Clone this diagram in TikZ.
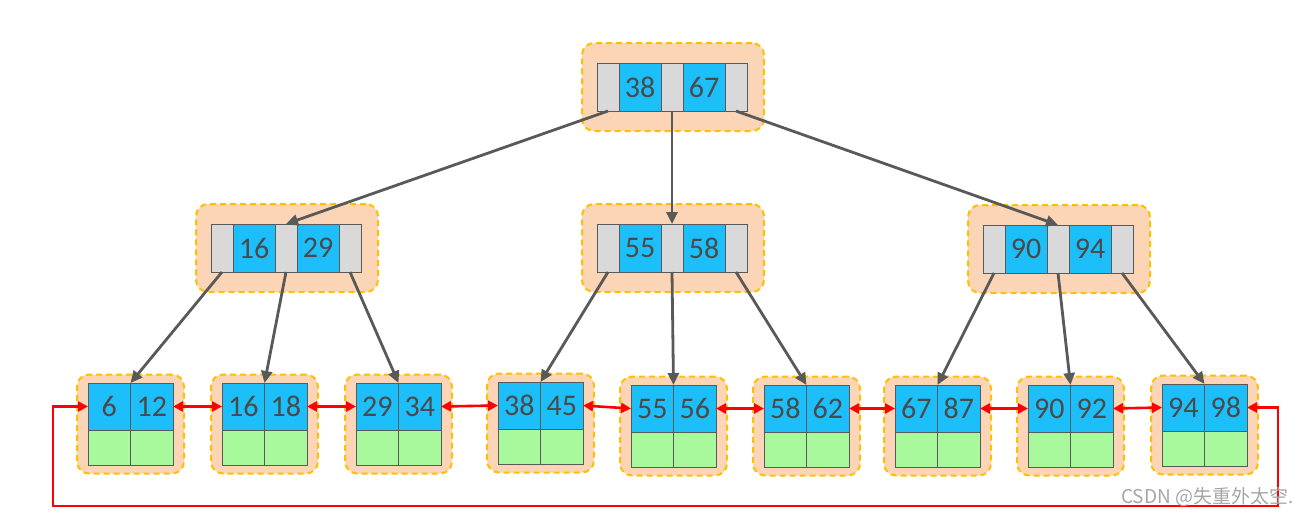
\documentclass[tikz,border=0pt]{standalone}
\usepackage{fontspec}
\setmainfont{Carlito}
\newfontfamily\cjk{Noto Sans CJK SC}
\usetikzlibrary{arrows.meta}
\definecolor{peach}{HTML}{FBD5B5}
\definecolor{gold}{HTML}{FFC000}
\definecolor{keyblue}{HTML}{1CBFFA}
\definecolor{ptrgray}{HTML}{D9D9D9}
\definecolor{leafgreen}{HTML}{A8F99C}
\definecolor{edgegray}{HTML}{595959}
\definecolor{txt}{HTML}{4A4A4A}
\tikzset{
  pagebox/.style={fill=peach, draw=gold, line width=2pt, dash pattern=on 6pt off 4pt,
    rounded corners=12pt, inner sep=0pt, outer sep=0pt},
  cellbase/.style={draw=edgegray, line width=1pt, inner sep=0pt, outer sep=0pt, anchor=north west,
    text=txt, font=\fontsize{30}{32}\selectfont},
  ptr/.style={cellbase, fill=ptrgray, minimum width=22pt, minimum height=48pt},
  ikey/.style={cellbase, fill=keyblue, minimum width=42pt, minimum height=48pt},
  lkey/.style={cellbase, fill=keyblue, minimum width=42.5pt, minimum height=47pt},
  ldata/.style={cellbase, fill=leafgreen, minimum width=42.5pt, minimum height=35pt},
  treearrow/.style={draw=edgegray, line width=2.8pt, -{Triangle[length=12pt,width=11pt]}},
  link/.style={draw=red, line width=2.6pt, {Triangle[length=10pt,width=10pt]}-{Triangle[length=10pt,width=10pt]}},
}
\newcommand\innernode[5]{%
  \node[pagebox, minimum width=182pt, minimum height=88pt] (#1) at (#2+76,#3+24) {};
  \node[ptr] (#1-p0) at (#2,#3) {};
  \node[ikey] (#1-k1) at (#1-p0.north east) {#4};
  \node[ptr] (#1-p1) at (#1-k1.north east) {};
  \node[ikey] (#1-k2) at (#1-p1.north east) {#5};
  \node[ptr] (#1-p2) at (#1-k2.north east) {};
}
\newcommand\leafnode[5]{%
  \node[pagebox, minimum width=107pt, minimum height=99pt] (#1) at (#2+42.5,#3+41) {};
  \node[lkey] (#1-a) at (#2,#3) {#4};
  \node[lkey] (#1-b) at (#1-a.north east) {#5};
  \node[ldata] (#1-c) at (#1-a.south west) {};
  \node[ldata] (#1-d) at (#1-b.south west) {};
}
\begin{document}
\begin{tikzpicture}[x=1pt,y=-1pt]
\useasboundingbox (0,0) rectangle (1313,517);
\innernode{r}{597}{63}{38}{67}
\innernode{ml}{211}{224}{16}{29}
\innernode{mc}{597}{224}{55}{58}
\innernode{mr}{983}{225}{90}{94}
\leafnode{l1}{88}{383}{6}{12}
\leafnode{l2}{222}{383}{16}{18}
\leafnode{l3}{356}{383}{29}{34}
\leafnode{l4}{498}{382}{38}{45}
\leafnode{l5}{631}{385}{55}{56}
\leafnode{l6}{764}{385}{58}{62}
\leafnode{l7}{895}{385}{67}{87}
\leafnode{l8}{1028}{385}{90}{92}
\leafnode{l9}{1162}{384}{94}{98}
% tree connectors
\draw[treearrow] (r-p0.south) -- (ml-p1.north);
\draw[treearrow] (r-p1.south) -- (mc-p1.north);
\draw[treearrow] (r-p2.south) -- (mr-p1.north);
\draw[treearrow] (ml-p0.south) -- (l1-a.north east);
\draw[treearrow] (ml-p1.south) -- (l2-a.north east);
\draw[treearrow] (ml-p2.south) -- (l3-a.north east);
\draw[treearrow] (mc-p0.south) -- (l4-a.north east);
\draw[treearrow] (mc-p1.south) -- (l5-a.north east);
\draw[treearrow] (mc-p2.south) -- (l6-a.north east);
\draw[treearrow] (mr-p0.south) -- (l7-a.north east);
\draw[treearrow] (mr-p1.south) -- (l8-a.north east);
\draw[treearrow] (mr-p2.south) -- (l9-a.north east);
% leaf links
\draw[link] (l1-b.east) -- (l2-a.west);
\draw[link] (l2-b.east) -- (l3-a.west);
\draw[link] (l3-b.east) -- (l4-a.west);
\draw[link] (l4-b.east) -- (l5-a.west);
\draw[link] (l5-b.east) -- (l6-a.west);
\draw[link] (l6-b.east) -- (l7-a.west);
\draw[link] (l7-b.east) -- (l8-a.west);
\draw[link] (l8-b.east) -- (l9-a.west);
\coordinate (loopR) at (1278,506);
\coordinate (loopL) at (53,506);
\draw[link] (l9-b.east) -| (loopR) -- (loopL) |- (l1-a.west);
\node[anchor=west, text=gray!70, font=\cjk\fontsize{19}{21}\selectfont, inner sep=0pt] (wm) at (1121,497) {CSDN @失重外太空.};
\end{tikzpicture}
\end{document}
